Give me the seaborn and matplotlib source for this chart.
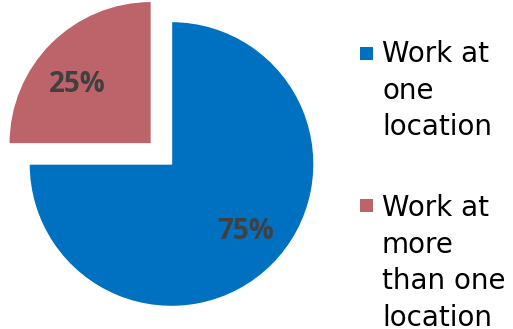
import matplotlib
matplotlib.use("Agg")
import matplotlib.pyplot as plt
import seaborn as sns
import numpy as np
from matplotlib.patches import Rectangle

sns.set_theme(style="white")
plt.rcParams['font.family'] = ['DejaVu Sans']

categories = ["Work at one location", "Work at more than one location"]
legend_labels = ["Work at\none\nlocation", "Work at\nmore\nthan one\nlocation"]
shares = [75, 25]
colors = ["#0070C0", "#BC6469"]

W, H, DPI = 513, 329, 100
fig = plt.figure(figsize=(W / DPI, H / DPI), dpi=DPI)
ax = fig.add_axes([0, 0, 1, 1])

R = 142.5            # pie radius in pixels
cx, cy = 171.5, 164  # pie centre, pixels from top-left

wedges, texts, autotexts = ax.pie(
    shares, colors=colors, startangle=90, counterclock=False,
    explode=[0, 0.2], autopct="%d%%", pctdistance=0.68,
    wedgeprops=dict(linewidth=1.0, edgecolor="white"),
    textprops=dict(color="#404040", fontsize=20, fontweight="bold", family="Open Sans"),
)
# nudge the percentage labels a few degrees round each wedge, centred on the digits
for w, t in zip(wedges, autotexts):
    ang = np.deg2rad((w.theta1 + w.theta2) / 2 + 4.5)
    x0, y0 = w.center
    t.set_position((x0 + 0.685 * w.r * np.cos(ang),
                    y0 + 0.685 * w.r * np.sin(ang) - 4 / R))

ax.set_xlim(-cx / R, (W - cx) / R)
ax.set_ylim(-(H - cy) / R, cy / R)
ax.set_aspect("equal", adjustable="box")
ax.axis("off")

# legend drawn as swatches with wrapped labels
swatch_tops = [47, 199]
text_tops = [40, 194]
for lab, col, st, tt in zip(legend_labels, colors, swatch_tops, text_tops):
    fig.patches.append(Rectangle((360 / W, 1 - (st + 13) / H), 13 / W, 13 / H,
                                 transform=fig.transFigure, facecolor=col, edgecolor="none"))
    fig.text(382 / W, 1 - tt / H, lab, fontsize=20, color="black",
             va="top", ha="left", linespacing=1.39)

fig.savefig("out.png", dpi=DPI)
